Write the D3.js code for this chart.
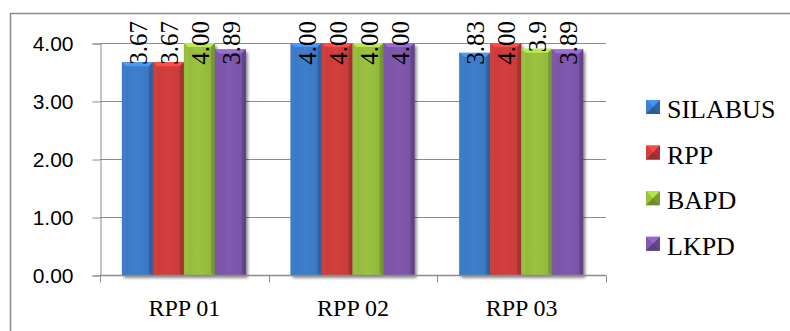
<!DOCTYPE html>
<html>
<head>
<meta charset="utf-8">
<script src="https://cdn.jsdelivr.net/npm/d3@7"></script>
<style>
  html, body { margin: 0; padding: 0; background: #fff; }
  svg { display: block; }
  .serif { font-family: "Liberation Serif", "Times New Roman", Times, "DejaVu Serif", serif; }
  .sans { font-family: "Liberation Sans", Arial, Helvetica, sans-serif; }
</style>
</head>
<body>
<svg id="chart" width="790" height="331"></svg>
<script>
// Scores per document, grouped by lesson plan
const categories = ["RPP 01", "RPP 02", "RPP 03"];
const seriesNames = ["SILABUS", "RPP", "BAPD", "LKPD"];
const silabus = [3.67, 4.00, 3.83];
const rpp     = [3.67, 4.00, 4.00];
const bapd    = [4.00, 4.00, 3.9];
const lkpd    = [3.89, 4.00, 3.89];
// Printed labels (BAPD on RPP 03 is shown with one decimal)
const silabusLabels = ["3.67", "4.00", "3.83"];
const rppLabels     = ["3.67", "4.00", "4.00"];
const bapdLabels    = ["4.00", "4.00", "3.9"];
const lkpdLabels    = ["3.89", "4.00", "3.89"];
const yTicks = [0, 1, 2, 3, 4];

const seriesValues = [silabus, rpp, bapd, lkpd];
const seriesLabels = [silabusLabels, rppLabels, bapdLabels, lkpdLabels];
const colors = ["#3b78c3", "#c93c3a", "#93b93d", "#7a54a6"];

const svg = d3.select("#chart");
const defs = svg.append("defs");

// Cylinder-like shading for each series
colors.forEach((c, i) => {
  const g = defs.append("linearGradient").attr("id", "bar" + i)
    .attr("x1", "0%").attr("x2", "100%").attr("y1", "0%").attr("y2", "0%");
  const base = d3.color(c);
  g.append("stop").attr("offset", "0%").attr("stop-color", base.darker(0.35));
  g.append("stop").attr("offset", "12%").attr("stop-color", base);
  g.append("stop").attr("offset", "45%").attr("stop-color", base.brighter(0.15));
  g.append("stop").attr("offset", "85%").attr("stop-color", base);
  g.append("stop").attr("offset", "100%").attr("stop-color", base.darker(0.6));
});

const shadow = defs.append("filter").attr("id", "shadow")
  .attr("x", "-20%").attr("y", "-5%").attr("width", "140%").attr("height", "115%");
shadow.append("feGaussianBlur").attr("in", "SourceAlpha").attr("stdDeviation", 1.6);
shadow.append("feOffset").attr("dx", 1.5).attr("dy", 2.5).attr("result", "off");
shadow.append("feComponentTransfer").append("feFuncA").attr("type", "linear").attr("slope", 0.45);
const merge = shadow.append("feMerge");
merge.append("feMergeNode");
merge.append("feMergeNode").attr("in", "SourceGraphic");

// Chart frame (only top and left edges fall inside the canvas)
svg.append("path")
  .attr("d", "M10.5,331 V13.5 H790")
  .attr("fill", "none").attr("stroke", "#8c8c8c").attr("stroke-width", 1.5);

const plot = { left: 100, right: 606, top: 43, bottom: 275 };

const y = d3.scaleLinear().domain([0, 4]).range([plot.bottom, plot.top]);
const x0 = d3.scaleBand().domain(categories).range([plot.left, plot.right]).padding(0);
const bw = x0.bandwidth();
const x1 = d3.scaleBand().domain(seriesNames).range([bw * 0.13, bw * 0.865]).padding(0);

// Gridlines
svg.append("g").selectAll("line").data(yTicks.filter(t => t > 0)).join("line")
  .attr("x1", plot.left).attr("x2", plot.right)
  .attr("y1", d => Math.round(y(d)) + 0.5).attr("y2", d => Math.round(y(d)) + 0.5)
  .attr("stroke", "#8c8c8c").attr("stroke-width", 1);

// Y axis
const yAxis = d3.axisLeft(y).tickValues(yTicks).tickFormat(d3.format(".2f")).tickSize(8).tickPadding(19);
const gy = svg.append("g").attr("transform", `translate(${plot.left + 0.5},0.5)`).call(yAxis)
  .attr("font-family", null).attr("font-size", null).attr("class", "sans");
gy.select(".domain").attr("stroke", "#8c8c8c");
gy.selectAll(".tick line").attr("stroke", "#8c8c8c");
gy.selectAll(".tick text")
  .style("font-size", "21px").attr("fill", "#000");

// Bars
const groups = svg.append("g").selectAll("g").data(categories).join("g")
  .attr("transform", c => `translate(${x0(c)},0)`);

const barData = (c, ci) => seriesNames.map((s, si) => ({
  s, si, v: seriesValues[si][ci], label: seriesLabels[si][ci]
}));

groups.each(function (c, ci) {
  const g = d3.select(this);
  const data = barData(c, ci);
  const bars = g.selectAll("g.bar").data(data).join("g").attr("class", "bar")
    .attr("filter", "url(#shadow)");
  bars.append("rect")
    .attr("x", d => x1(d.s)).attr("width", x1.bandwidth())
    .attr("y", d => y(d.v)).attr("height", d => y(0) - y(d.v))
    .attr("fill", d => `url(#bar${d.si})`);
  // top chamfer
  const b = 4;
  bars.append("path")
    .attr("d", d => {
      const xa = x1(d.s), xb = xa + x1.bandwidth(), yt = y(d.v);
      return `M${xa},${yt} H${xb} L${xb - b},${yt + b} H${xa + b} Z`;
    })
    .attr("fill", d => d3.color(colors[d.si]).brighter(0.7));
  bars.append("path")
    .attr("d", d => {
      const xa = x1(d.s), yt = y(d.v);
      return `M${xa},${yt} L${xa + b},${yt + b} V${y(0) - 2} L${xa},${y(0)} Z`;
    })
    .attr("fill", d => d3.color(colors[d.si]).brighter(0.25)).attr("opacity", 0.6);
  bars.append("path")
    .attr("d", d => {
      const xb = x1(d.s) + x1.bandwidth(), yt = y(d.v);
      return `M${xb},${yt} L${xb - b},${yt + b} V${y(0) - 2} L${xb},${y(0)} Z`;
    })
    .attr("fill", d => d3.color(colors[d.si]).darker(0.7)).attr("opacity", 0.7);

  // Value labels, rotated
  g.selectAll("text.val").data(data).join("text").attr("class", "val serif")
    .attr("transform", d => `translate(${x1(d.s) + x1.bandwidth() / 2 + 1},21) rotate(-90)`)
    .attr("text-anchor", "end")
    .attr("dy", "0.34em")
    .style("font-size", "25px").attr("fill", "#000")
    .text(d => d.label);
});

// X axis
const xAxis = d3.axisBottom(x0).tickSize(0).tickPadding(0);
const gx = svg.append("g").attr("transform", `translate(0,${plot.bottom + 0.5})`).call(xAxis)
  .attr("font-family", null).attr("font-size", null).attr("class", "serif");
gx.select(".domain").remove();
gx.append("line").attr("x1", plot.left).attr("x2", plot.right)
  .attr("stroke", "#8c8c8c").attr("stroke-width", 1.5);
gx.selectAll(".tick text")
  .attr("y", 40).attr("dy", 0)
  .style("font-size", "24px").attr("fill", "#000");
// category separator ticks
const seps = categories.map(c => x0(c)).concat([plot.right]);
gx.selectAll("line.sep").data(seps).join("line").attr("class", "sep")
  .attr("x1", d => Math.round(d) + 0.5).attr("x2", d => Math.round(d) + 0.5)
  .attr("y1", 0).attr("y2", 7).attr("stroke", "#8c8c8c");

// Legend
const legend = svg.append("g").attr("transform", "translate(646,100)");
const items = legend.selectAll("g").data(seriesNames).join("g")
  .attr("transform", (d, i) => `translate(0,${i * 45.6})`);
const s = 14;
items.each(function (d, i) {
  const g = d3.select(this);
  const base = d3.color(colors[i]);
  const h = s / 2;
  g.append("rect").attr("width", s).attr("height", s).attr("fill", base);
  g.append("path").attr("d", `M0,0 H${s} L${h},${h} Z`).attr("fill", base.brighter(0.6));
  g.append("path").attr("d", `M0,0 V${s} L${h},${h} Z`).attr("fill", base.brighter(0.15));
  g.append("path").attr("d", `M${s},0 V${s} L${h},${h} Z`).attr("fill", base.darker(0.5));
  g.append("path").attr("d", `M0,${s} H${s} L${h},${h} Z`).attr("fill", base.darker(0.8));
});
items.append("text")
  .attr("class", "serif")
  .attr("x", 21).attr("y", 18)
  .style("font-size", "26px").attr("fill", "#000")
  .text(d => d);
</script>
</body>
</html>
